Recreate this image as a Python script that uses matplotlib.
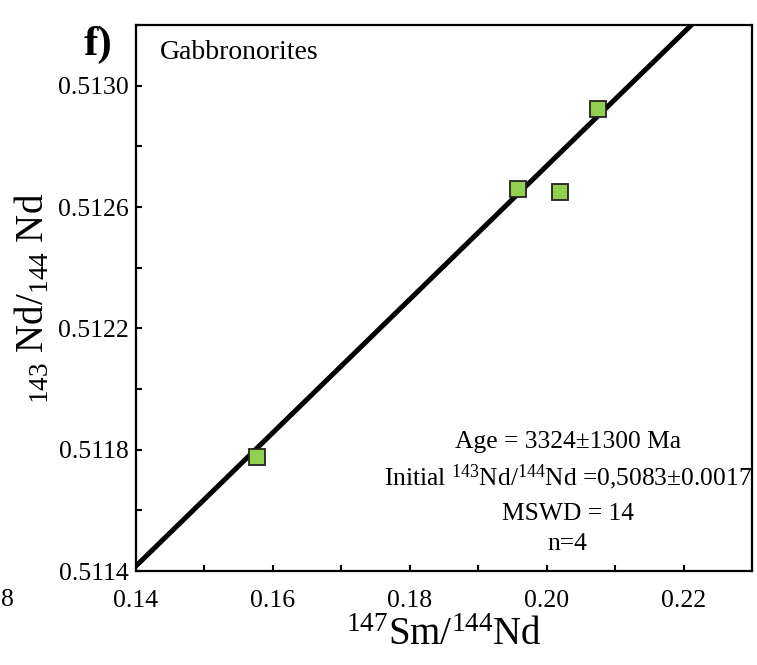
import numpy as np
import matplotlib
matplotlib.use("Agg")
import matplotlib.pyplot as plt
from matplotlib.ticker import MultipleLocator

plt.rcParams['font.family'] = ['Liberation Serif', 'DejaVu Serif']
plt.rcParams['mathtext.fontset'] = 'custom'
plt.rcParams['mathtext.rm'] = 'Liberation Serif'
plt.rcParams['mathtext.it'] = 'Liberation Serif:italic'
plt.rcParams['mathtext.bf'] = 'Liberation Serif:bold'

# samples (147Sm/144Nd, 143Nd/144Nd)
sm_nd = [0.1577, 0.1958, 0.2020, 0.2075]
nd_nd = [0.511775, 0.512661, 0.512648, 0.512924]

# isochron result
age_ma = 3324
initial = 0.50834
decay = 6.54e-12
slope = np.exp(decay * age_ma * 1e6) - 1

xticks = [0.14, 0.16, 0.18, 0.20, 0.22]
yticks = [0.5114, 0.5118, 0.5122, 0.5126, 0.5130]

fig = plt.figure(figsize=(7.57, 6.65), dpi=100)
ax = fig.add_axes([0.1797, 0.1413, 0.8137, 0.8211])

xl = np.array([0.13, 0.24])
ax.plot(xl, initial + slope * xl, color='black', lw=3.6, zorder=2)
ax.plot(sm_nd, nd_nd, ls='none', marker='s', ms=12, mfc='#92D050',
        mec='#222222', mew=1.3, zorder=3)

ax.set_xlim(0.14, 0.23)
ax.set_ylim(0.5114, 0.5132)
ax.set_xticks(xticks)
ax.set_xticklabels(['%.2f' % v for v in xticks])
ax.set_yticks(yticks)
ax.set_yticklabels(['%.4f' % v for v in yticks])
ax.xaxis.set_minor_locator(MultipleLocator(0.01))
ax.yaxis.set_minor_locator(MultipleLocator(0.0002))
ax.tick_params(which='both', direction='in', width=1.5, length=4,
               top=False, right=False)
ax.tick_params(axis='x', which='major', labelsize=18.5, pad=14)
ax.tick_params(axis='y', which='major', labelsize=18.5, pad=5)
for s in ax.spines.values():
    s.set_linewidth(1.6)

ax.set_xlabel(r'$^{147}$Sm/$^{144}$Nd', fontsize=28, labelpad=3)
ax.set_ylabel(r'$_{143}$ Nd/$_{144}$ Nd', fontsize=28, labelpad=4)

ax.text(0.039, 0.972, 'Gabbronorites', transform=ax.transAxes,
        fontsize=20, va='top', ha='left')
fig.text(0.111, 0.962, 'f)', fontsize=31, fontweight='bold',
         va='top', ha='left')
fig.text(0.001, 0.088, '8', fontsize=18.5, ha='left', va='baseline')

cx = 0.701
ax.text(cx, 0.2253, 'Age = %d±1300 Ma' % age_ma, transform=ax.transAxes,
        fontsize=18.4, ha='center', va='baseline')
ax.text(cx, 0.1575, r'Initial $^{143}$Nd/$^{144}$Nd =0,5083±0.0017',
        transform=ax.transAxes, fontsize=18.4, ha='center', va='baseline')
ax.text(cx, 0.0934, 'MSWD = 14', transform=ax.transAxes,
        fontsize=18.4, ha='center', va='baseline')
ax.text(cx, 0.0385, 'n=4', transform=ax.transAxes,
        fontsize=18.4, ha='center', va='baseline')

fig.savefig('out.png', dpi=100)
